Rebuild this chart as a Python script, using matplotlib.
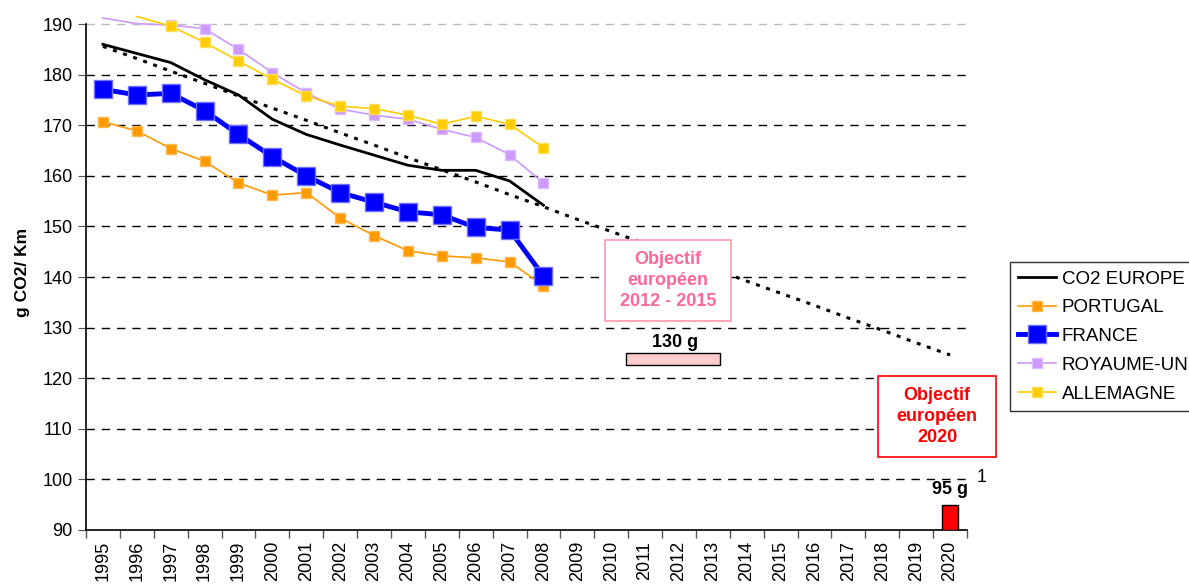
import numpy as np
import matplotlib
matplotlib.use('Agg')
import matplotlib.pyplot as plt
from matplotlib.patches import Rectangle

plt.rcParams['font.family'] = ['Liberation Sans', 'DejaVu Sans']

years = [str(y) for y in range(1995, 2021)]

# measured series (1995-2008), nan = not on chart
co2_europe = [186.0, 184.2, 182.4, 179.0, 176.0, 171.2, 168.2, 166.1, 164.1, 162.1, 161.1, 161.1, 159.0, 154.2]
portugal = [170.7, 168.9, 165.4, 162.9, 158.6, 156.2, 156.7, 151.7, 148.2, 145.2, 144.2, 143.8, 143.0, 138.3]
france = [177.1, 176.0, 176.3, 172.9, 168.2, 163.8, 160.0, 156.7, 154.8, 152.9, 152.3, 149.8, 149.3, 140.2]
royaume_uni = [191.2, 190.1, 189.8, 189.1, 185.0, 180.4, 176.4, 173.2, 172.0, 171.2, 169.2, 167.6, 164.2, 158.6]
allemagne = [np.nan, 191.5, 189.6, 186.4, 182.7, 179.1, 175.8, 173.8, 173.3, 172.0, 170.2, 171.8, 170.2, 165.6]

# trend line 1995-2020 (dotted)
trend = [185.6, 183.2, 180.7, 178.3, 175.8, 173.4, 171.0, 168.5, 166.1, 163.6, 161.2, 158.8, 156.3,
         153.9, 151.4, 149.0, 146.6, 144.1, 141.7, 139.2, 136.8, 134.4, 131.9, 129.5, 127.0, 124.6]

target_2020 = 95
target_2015 = 130

fig = plt.figure(figsize=(11.89, 5.88), dpi=100)
ax = fig.add_axes([86 / 1189, 1 - 530 / 588, 881 / 1189, 516 / 588])

x_hist = np.arange(len(co2_europe))
x_all = np.arange(len(years))


def visible(vals):
    # Excel hides markers above the axis max
    return [i for i, v in enumerate(vals) if not np.isnan(v) and v <= 190]


ax.plot(x_all, trend, color='black', lw=2.2, ls=(0, (1.3, 2.2)), zorder=3)
ax.plot(x_hist, co2_europe, color='black', lw=2, label='CO2 EUROPE', zorder=4)
ax.plot(x_hist, portugal, color='#FF9900', lw=1.2, marker='s', ms=7, mec='#FFB84D',
        markevery=visible(portugal), label='PORTUGAL', zorder=4)
ax.plot(x_hist, france, color='#0000FF', lw=3.5, marker='s', ms=12.5, mec='#6F6FFF',
        markevery=visible(france), label='FRANCE', zorder=5)
ax.plot(x_hist, royaume_uni, color='#CC99FF', lw=1.2, marker='s', ms=7, mec='#DDBBFF',
        markevery=visible(royaume_uni), label='ROYAUME-UNI', zorder=4)
ax.plot(x_hist, allemagne, color='#FFCC00', lw=1.2, marker='s', ms=7, mec='#FFDD55',
        markevery=visible(allemagne), label='ALLEMAGNE', zorder=4)

# 2020 target bar
ax.bar(years.index('2020'), target_2020 - 90, bottom=90, width=0.45,
       color='#FF0000', edgecolor='black', lw=1, zorder=5)
ax.text(years.index('2020'), 96.3, '%d g' % target_2020, ha='center', va='bottom',
        fontsize=13, fontweight='bold', zorder=6)

# 2012-2015 target marker
ax.add_patch(Rectangle((years.index('2011') - 0.55, 122.6), 2.75, 2.4,
                       facecolor='#FFCCCC', edgecolor='black', lw=1, zorder=5))
ax.text(years.index('2011') + 0.87, 125.3, '%d g' % target_2015, ha='center', va='bottom',
        fontsize=13, fontweight='bold', zorder=6)

# text boxes
ax.add_patch(Rectangle((14.81, 131.3), 3.72, 16.0, facecolor='white', edgecolor='#FF99AA',
                       lw=1.2, zorder=6))
ax.text(16.67, 139.3, 'Objectif\neuropéen\n2012 - 2015', ha='center', va='center',
        fontsize=13, fontweight='bold', color='#FF6699', linespacing=1.3, zorder=7)
ax.add_patch(Rectangle((22.86, 104.4), 3.51, 16.0, facecolor='white', edgecolor='#FF0000',
                       lw=1.2, zorder=6, clip_on=False))
ax.text(24.62, 112.4, 'Objectif\neuropéen\n2020', ha='center', va='center',
        fontsize=13, fontweight='bold', color='#FF0000', linespacing=1.3, zorder=7, clip_on=False)
ax.text(25.93, 100.3, '1', ha='center', va='center', fontsize=13, clip_on=False)

ax.set_xlim(-0.5, 25.5)
ax.set_ylim(90, 192)
ax.set_yticks(range(90, 200, 10))
ax.set_xticks(x_all)
ax.set_xticklabels(years, rotation=90, fontsize=13)
ax.tick_params(axis='x', which='major', length=0, pad=8)
ax.set_xticks(np.arange(-0.5, 26, 1), minor=True)
ax.tick_params(axis='x', which='minor', length=6, width=1, color='#555555', direction='out')
ax.tick_params(axis='y', labelsize=13, length=6, color='#555555', direction='out')

for v in range(100, 200, 10):
    ax.axhline(v, color='#BBBBBB' if v == 190 else 'black', lw=1, ls=(0, (6, 5)), zorder=1)

for s in ['top', 'right']:
    ax.spines[s].set_visible(False)
ax.spines['left'].set_bounds(90, 190)
ax.spines['left'].set_linewidth(1.2)
ax.spines['bottom'].set_linewidth(1.2)

ax.set_ylabel('g CO2/ Km', fontsize=12.5, fontweight='bold', labelpad=9)

leg = fig.legend(loc='upper left', bbox_to_anchor=(1010 / 1189, 1 - 262 / 588), fontsize=13.5,
                 frameon=True, fancybox=False, edgecolor='black', handlelength=2.0,
                 handletextpad=0.3, labelspacing=0.62, borderpad=0.45, borderaxespad=0)
leg.get_frame().set_linewidth(1)

fig.savefig('out.png', dpi=100)
